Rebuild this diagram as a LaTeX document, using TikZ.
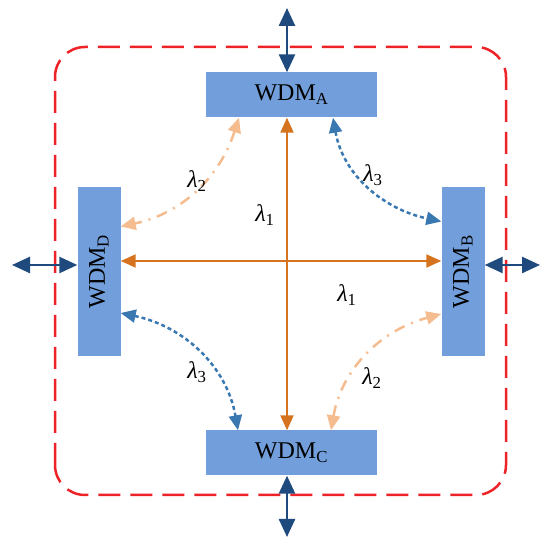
\documentclass[tikz,border=0pt]{standalone}
\usepackage{fontspec}
\setmainfont{Liberation Serif}
\usepackage{graphicx}
\usetikzlibrary{arrows.meta}
\definecolor{wdmblue}{HTML}{729FDB}
\definecolor{wdmnavy}{HTML}{1F4A7D}
\definecolor{wdmorange}{HTML}{D5731F}
\definecolor{wdmpeach}{HTML}{F5BC8F}
\definecolor{wdmsteel}{HTML}{3A78B2}
\definecolor{wdmred}{HTML}{EE2328}
\newcommand{\lam}[1]{{\itshape λ}\textsubscript{#1}}

\begin{document}
\begin{tikzpicture}[
  x=1pt, y=1pt,
  font=\fontsize{24}{28}\selectfont,
  wdm/.style={fill=wdmblue, inner sep=0pt},
  hbox/.style={wdm, minimum width=171pt, minimum height=45pt},
  vbox/.style={wdm, minimum width=43pt, minimum height=169pt},
  port/.style={{Triangle[length=18pt,width=16pt]}-{Triangle[length=18pt,width=16pt]},
               line width=2.5pt, draw=wdmnavy},
  cross/.style={{Triangle[length=15pt,width=13pt]}-{Triangle[length=15pt,width=13pt]},
                line width=2pt, draw=wdmorange},
  lamtwo/.style={{Triangle[length=15pt,width=13pt]}-{Triangle[length=15pt,width=13pt]},
                 line width=2.5pt, draw=wdmpeach, dash pattern=on 11pt off 7pt on 2pt off 7pt},
  lamthree/.style={{Triangle[length=15pt,width=13pt]}-{Triangle[length=15pt,width=13pt]},
                   line width=2.5pt, draw=wdmsteel, dash pattern=on 4pt off 3pt},
  lab/.style={inner sep=0pt},
]
\useasboundingbox (0,0) rectangle (542,541);
% enclosure
\draw[wdmred, line width=2.5pt, dash pattern=on 22pt off 10pt, rounded corners=30pt]
  (55,46) rectangle (506,494);
% multiplexers
\node[hbox] (A) at (291.5,446) {WDM\textsubscript{A}};
\node[hbox] (C) at (291.5,88)  {WDM\textsubscript{C}};
\node[vbox] (D) at (99,269.5)  {\rotatebox{90}{WDM\textsubscript{D}}};
\node[vbox] (B) at (463,269.5) {\rotatebox{90}{WDM\textsubscript{B}}};
% external ports
\coordinate (mid) at (287,280);
\coordinate (pN) at (287,533);
\coordinate (pS) at (287,4);
\coordinate (pW) at (12,276);
\coordinate (pE) at (540,276);
\draw[port] (pN) -- (A.north -| pN);
\draw[port] (pS) -- (C.south -| pS);
\draw[port] (pW) -- (D.west |- pW);
\draw[port] (pE) -- (B.east |- pE);
% lambda 1
\draw[cross] (A.south -| mid) -- (C.north -| mid);
\draw[cross] (D.east |- mid) -- (B.west |- mid);
% lambda 2 and lambda 3
\draw[lamtwo] ([xshift=-52.5pt]A.south) to[out=-108,in=12] ([yshift=45pt]D.east);
\draw[lamthree] ([xshift=41.5pt]A.south) to[out=-80,in=168] ([yshift=50pt]B.west);
\draw[lamthree] ([yshift=-41.5pt]D.east) to[out=-12,in=100] ([xshift=-53.5pt]C.north);
\draw[lamtwo] ([xshift=39.5pt]C.north) to[out=80,in=195] ([yshift=-42.5pt]B.west);
% labels
\node[lab] (l1a) at (265,326) {\lam{1}};
\node[lab] (l1b) at (347,246) {\lam{1}};
\node[lab] (l2a) at (197,360) {\lam{2}};
\node[lab] (l2b) at (372,163) {\lam{2}};
\node[lab] (l3a) at (373,366) {\lam{3}};
\node[lab] (l3b) at (197,169) {\lam{3}};
\end{tikzpicture}
\end{document}
